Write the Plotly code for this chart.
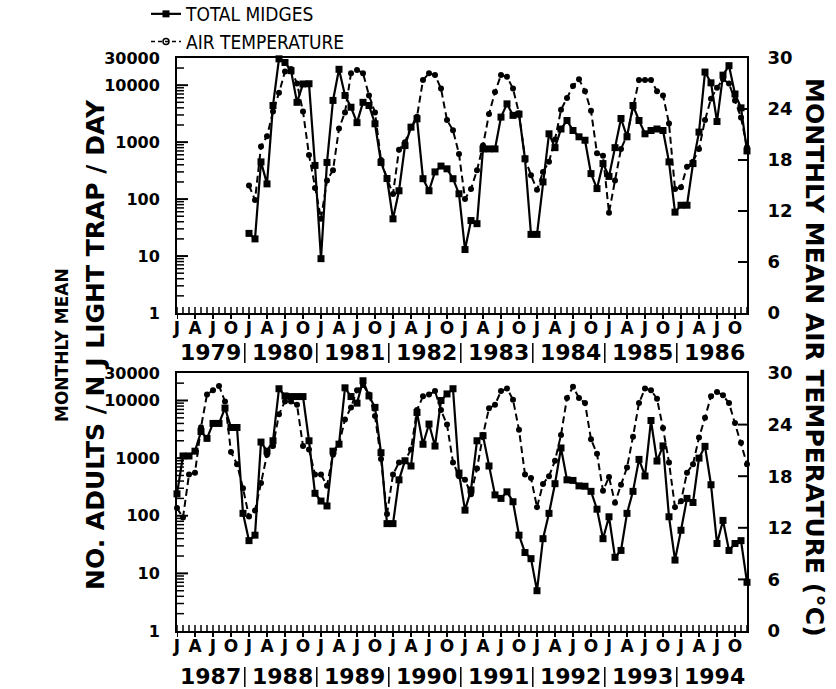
import math
import plotly.graph_objects as go

# ---------------- data ----------------
MONTH_TICK_TEXT = ["J", "A", "J", "O"]
TOP_YEARS = [1979, 1980, 1981, 1982, 1983, 1984, 1985, 1986]
BOTTOM_YEARS = [1987, 1988, 1989, 1990, 1991, 1992, 1993, 1994]
LEFT_TICKS = [1, 10, 100, 1000, 10000, 30000]
RIGHT_TICKS = [0, 6, 12, 18, 24, 30]

# Total midges, monthly mean no. adults / NJ light trap / day (Jan..Dec)
MIDGES_1980 = [25, 20, 450, 185, 4400, 29000, 25000, 18000, 5000, 10500, 10600, 390]
MIDGES_1981 = [9, 440, 5400, 19000, 6600, 4100, 2200, 5000, 4400, 2100, 440, 230]
MIDGES_1982 = [45, 140, 870, 1830, 2570, 228, 140, 300, 380, 340, 228, 124]
MIDGES_1983 = [13, 42, 37, 760, 760, 760, 2750, 4700, 2950, 3100, 510, 24]
MIDGES_1984 = [24, 200, 1400, 800, 1700, 2400, 1600, 1240, 1080, 280, 153, 420]
MIDGES_1985 = [250, 800, 2600, 1240, 4400, 2400, 1400, 1600, 1700, 1600, 450, 59]
MIDGES_1986 = [78, 78, 420, 1500, 17000, 11000, 2300, 15000, 22000, 7000, 4000, 700]
MIDGES_1987 = [240, 1090, 1090, 1320, 2900, 2200, 4000, 4000, 7400, 3400, 3400, 110]
MIDGES_1988 = [37, 46, 1900, 1320, 2000, 16000, 12000, 11700, 11700, 11700, 2000, 245]
MIDGES_1989 = [180, 148, 1320, 1750, 16600, 11700, 9000, 22000, 12000, 7600, 1240, 73]
MIDGES_1990 = [73, 420, 900, 730, 6200, 1740, 3900, 1620, 10000, 13000, 16000, 550]
MIDGES_1991 = [125, 280, 2000, 2450, 730, 230, 200, 260, 175, 46, 23, 18]
MIDGES_1992 = [5, 40, 110, 360, 1500, 420, 410, 330, 325, 265, 130, 40]
MIDGES_1993 = [96, 19, 25, 110, 265, 950, 490, 4500, 890, 1630, 96, 17]
MIDGES_1994 = [56, 200, 170, 1000, 1600, 345, 33, 83, 25, 33, 37, 7]

# Monthly mean air temperature, deg C (Jan..Dec)
TEMP_1980 = [15.0, 13.3, 19.6, 20.8, 23.7, 25.9, 28.4, 28.7, 27.0, 23.7, 18.6, 14.7]
TEMP_1981 = [11.1, 15.6, 16.8, 21.7, 23.6, 28.2, 28.6, 28.2, 25.6, 23.6, 18.0, 15.8]
TEMP_1982 = [14.0, 19.2, 20.1, 21.9, 23.1, 27.4, 28.2, 28.0, 26.4, 22.7, 21.5, 18.7]
TEMP_1983 = [13.4, 14.6, 16.8, 19.7, 23.4, 26.0, 28.0, 27.8, 26.4, 23.5, 18.2, 16.2]
TEMP_1984 = [14.5, 16.6, 17.8, 20.4, 23.9, 25.3, 26.7, 27.5, 26.1, 23.8, 18.8, 18.5]
TEMP_1985 = [11.8, 15.6, 19.3, 20.9, 24.2, 27.4, 27.4, 27.4, 26.1, 25.6, 22.3, 14.6]
TEMP_1986 = [14.8, 17.2, 17.8, 19.3, 22.7, 25.2, 26.5, 27.5, 27.0, 25.0, 23.0, 19.5]
TEMP_1987 = [14.3, 13.2, 18.2, 18.4, 23.7, 27.5, 28.0, 28.5, 26.7, 20.8, 19.4, 16.6]
TEMP_1988 = [13.3, 14.0, 17.2, 20.5, 21.5, 25.2, 26.7, 26.7, 26.3, 21.5, 21.1, 18.2]
TEMP_1989 = [18.2, 16.9, 20.5, 21.7, 24.6, 26.0, 28.0, 28.6, 27.5, 25.0, 20.0, 13.6]
TEMP_1990 = [18.2, 19.6, 19.8, 21.1, 25.7, 27.3, 27.5, 27.9, 25.7, 24.0, 19.6, 18.0]
TEMP_1991 = [17.6, 15.9, 18.9, 22.8, 25.9, 26.3, 27.9, 28.2, 26.9, 23.4, 18.2, 17.8]
TEMP_1992 = [14.4, 17.1, 18.0, 19.8, 22.8, 27.1, 28.4, 27.1, 26.5, 22.3, 20.6, 16.3]
TEMP_1993 = [17.9, 14.9, 17.0, 19.0, 22.6, 26.5, 28.2, 28.0, 27.0, 23.6, 19.6, 14.4]
TEMP_1994 = [15.1, 18.4, 19.4, 22.5, 24.8, 27.3, 27.8, 27.4, 26.5, 24.2, 21.9, 19.4]

MIDGES = {1980: MIDGES_1980, 1981: MIDGES_1981, 1982: MIDGES_1982, 1983: MIDGES_1983,
          1984: MIDGES_1984, 1985: MIDGES_1985, 1986: MIDGES_1986, 1987: MIDGES_1987,
          1988: MIDGES_1988, 1989: MIDGES_1989, 1990: MIDGES_1990, 1991: MIDGES_1991,
          1992: MIDGES_1992, 1993: MIDGES_1993, 1994: MIDGES_1994}
TEMP = {1980: TEMP_1980, 1981: TEMP_1981, 1982: TEMP_1982, 1983: TEMP_1983,
        1984: TEMP_1984, 1985: TEMP_1985, 1986: TEMP_1986, 1987: TEMP_1987,
        1988: TEMP_1988, 1989: TEMP_1989, 1990: TEMP_1990, 1991: TEMP_1991,
        1992: TEMP_1992, 1993: TEMP_1993, 1994: TEMP_1994}


def panel_series(years, table):
    xs, vs = [], []
    for k, yr in enumerate(years):
        if yr not in table:
            continue
        for i, v in enumerate(table[yr]):
            xs.append(k * 12 + i)
            vs.append(v)
    return xs, vs


# ---------------- layout geometry (pixels) ----------------
W, H = 836, 689
L, R, T, B = 177, 89, 58, 58
PLOT_H = H - T - B
PLOT_W = W - L - R


def py(px):  # pixel row -> paper y
    return (H - B - px) / PLOT_H


def pxx(px):  # pixel column -> paper x
    return (px - L) / PLOT_W


TOP_DOMAIN = [py(313), 1.0]
BOT_DOMAIN = [0.0, py(373)]
TOP_H_PX = 313 - 58
BOT_H_PX = 631 - 373

BLACK = "black"
BOLD = "DejaVu Sans"
LEFT_TICK_FONT = dict(family=BOLD, size=16, color=BLACK, weight="bold")
RIGHT_TICK_FONT = dict(family=BOLD, size=18, color=BLACK, weight="bold")
X_TICK_FONT = dict(family=BOLD, size=17, color=BLACK, weight="bold")

fig = go.Figure()

panels = [
    (TOP_YEARS, "x", "y", "y2", True),
    (BOTTOM_YEARS, "x2", "y3", "y4", False),
]

for years, xa, ya_left, ya_right, show_leg in panels:
    mx, mv = panel_series(years, MIDGES)
    tx, tv = panel_series(years, TEMP)
    fig.add_trace(go.Scatter(
        x=tx, y=tv, xaxis=xa, yaxis=ya_right, mode="lines+markers",
        name="AIR TEMPERATURE", showlegend=False, hoverinfo="x+y",
        line=dict(color=BLACK, width=2, dash="7px,4px"),
        marker=dict(symbol="circle", size=6, color=BLACK),
        cliponaxis=False))
    fig.add_trace(go.Scatter(
        x=mx, y=mv, xaxis=xa, yaxis=ya_left, mode="lines+markers",
        name="TOTAL MIDGES", showlegend=show_leg, legendrank=1,
        line=dict(color=BLACK, width=2.2),
        marker=dict(symbol="square", size=7, color=BLACK),
        cliponaxis=False))

# legend key for temperature (open circles, as in the key)
fig.add_trace(go.Scatter(
    x=[None], y=[None], xaxis="x", yaxis="y2", mode="lines+markers",
    name="AIR TEMPERATURE", legendrank=2,
    line=dict(color=BLACK, width=1.5, dash="4px,3px"),
    marker=dict(symbol="circle-open", size=6, color=BLACK, line=dict(width=1.5))))

n_months = 96
major_vals = list(range(0, n_months, 3))
major_text = [MONTH_TICK_TEXT[(v // 3) % 4] for v in major_vals]
minor_vals = list(range(0, n_months))

log_minor = []
for d in range(0, 5):
    for k in range(2, 10):
        v = k * 10 ** d
        if v < 30000:
            log_minor.append(v)
LOG_TOP = math.log10(30000)
LOG_RANGE = [0, LOG_TOP]


def xaxis_cfg(anchor):
    return dict(
        domain=[0, 1], range=[0, n_months - 1], anchor=anchor,
        tickmode="array", tickvals=major_vals, ticktext=major_text,
        ticks="", ticklabelstandoff=-1,
        showline=True, linewidth=2, linecolor=BLACK, mirror=True,
        showgrid=False, zeroline=False, tickfont=X_TICK_FONT, fixedrange=True)


def ylog_cfg(domain, anchor):
    return dict(
        domain=domain, anchor=anchor, type="log", range=LOG_RANGE,
        tickmode="array", tickvals=LEFT_TICKS, ticktext=[str(v) for v in LEFT_TICKS],
        ticks="", showline=True, linewidth=2, linecolor=BLACK,
        showgrid=False, zeroline=False, tickfont=LEFT_TICK_FONT,
        ticklabelstandoff=12, fixedrange=True)


def ytemp_cfg(overlay, anchor):
    return dict(
        overlaying=overlay, anchor=anchor, side="right", range=[0, 30],
        tickmode="array", tickvals=RIGHT_TICKS, ticktext=[str(v) for v in RIGHT_TICKS],
        ticks="", showline=True, linewidth=2, linecolor=BLACK,
        showgrid=False, zeroline=False, tickfont=RIGHT_TICK_FONT,
        ticklabelstandoff=15, fixedrange=True)


annotations = []
shapes = []


def tick_line(xref, yref, x0, x1, y0, y1, width):
    return dict(type="line", xref=xref, yref=yref, x0=x0, x1=x1, y0=y0, y1=y1,
                layer="above", line=dict(color=BLACK, width=width))


# tick marks drawn on each panel (month comb, quarter ticks, log and temperature ticks)
for xref, ydom, xdom, yright, hpx in [
        ("x", "y domain", "x domain", "y2", TOP_H_PX),
        ("x2", "y3 domain", "x2 domain", "y4", BOT_H_PX)]:
    for m in minor_vals:
        shapes.append(tick_line(xref, ydom, m, m, 0, 6 / hpx, 1.5))
    for m in major_vals:
        shapes.append(tick_line(xref, ydom, m, m, 0, -6 / hpx, 2))
    for v in LEFT_TICKS[1:-1]:
        f = math.log10(v) / LOG_TOP
        shapes.append(tick_line(xdom, ydom, 0, 11 / PLOT_W, f, f, 2))
    for v in log_minor:
        f = math.log10(v) / LOG_TOP
        shapes.append(tick_line(xdom, ydom, 0, 7 / PLOT_W, f, f, 1.5))
    for v in RIGHT_TICKS[1:-1]:
        shapes.append(tick_line(xdom, yright, 1, 1 - 9 / PLOT_W, v, v, 2))

for years, xref, y_label_px, bar_px in [
        (TOP_YEARS, "x", 352, (343, 363)),
        (BOTTOM_YEARS, "x2", 676, (667, 687))]:
    for k, yr in enumerate(years):
        annotations.append(dict(
            x=k * 12 + 5.5, xref=xref, y=py(y_label_px), yref="paper",
            text=str(yr), showarrow=False, xanchor="center", yanchor="middle",
            font=dict(family=BOLD, size=22, color=BLACK, weight="bold")))
        if k > 0:
            shapes.append(dict(
                type="line", xref=xref, yref="paper",
                x0=k * 12 - 0.7, x1=k * 12 - 0.7,
                y0=py(bar_px[0]), y1=py(bar_px[1]),
                line=dict(color=BLACK, width=1.5)))

annotations += [
    dict(x=pxx(62), y=py(345), xref="paper", yref="paper", text="MONTHLY MEAN",
         textangle=-90, showarrow=False,
         font=dict(family=BOLD, size=17, color=BLACK, weight="bold"),
         xanchor="center", yanchor="middle"),
    dict(x=pxx(95), y=py(345), xref="paper", yref="paper",
         text="NO. ADULTS / N J LIGHT TRAP / DAY",
         textangle=-90, showarrow=False,
         font=dict(family=BOLD, size=25, color=BLACK, weight="bold"),
         xanchor="center", yanchor="middle"),
    dict(x=pxx(815), y=py(357), xref="paper", yref="paper",
         text="MONTHLY MEAN AIR TEMPERATURE (°C)",
         textangle=90, showarrow=False,
         font=dict(family=BOLD, size=25, color=BLACK, weight="bold"),
         xanchor="center", yanchor="middle"),
]

fig.update_layout(
    width=W, height=H, autosize=False,
    margin=dict(l=L, r=R, t=T, b=B, pad=0, autoexpand=False),
    paper_bgcolor="white", plot_bgcolor="rgba(0,0,0,0)",
    xaxis=xaxis_cfg("y"),
    xaxis2=xaxis_cfg("y3"),
    yaxis=ylog_cfg(TOP_DOMAIN, "x"),
    yaxis2=ytemp_cfg("y", "x"),
    yaxis3=ylog_cfg(BOT_DOMAIN, "x2"),
    yaxis4=ytemp_cfg("y3", "x2"),
    annotations=annotations,
    shapes=shapes,
    showlegend=True,
    legend=dict(x=pxx(146), y=py(-5), xanchor="left", yanchor="top",
                font=dict(family="Liberation Sans Narrow, DejaVu Sans Condensed",
                          size=19, color=BLACK),
                bgcolor="rgba(0,0,0,0)", borderwidth=0, tracegroupgap=0,
                itemwidth=30),
)

fig.write_html("out.html", include_plotlyjs=True,
               config={"displayModeBar": False},
               post_script="document.body.style.margin='0';")
